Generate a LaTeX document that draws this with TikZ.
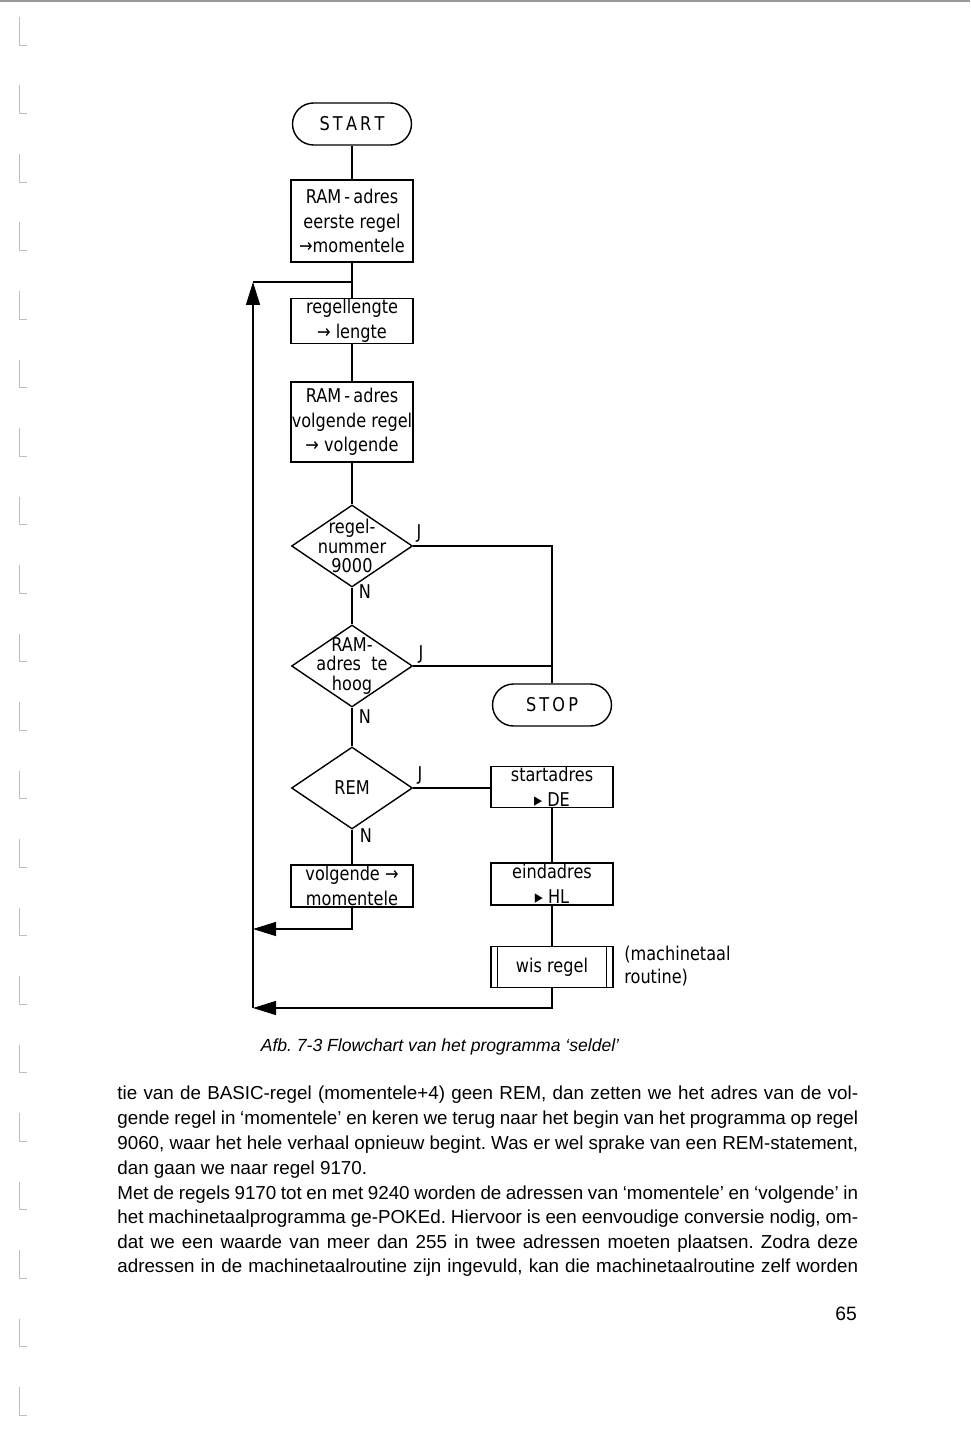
\documentclass[tikz,border=0pt]{standalone}
\usepackage{fontspec}
\setmainfont{Liberation Sans}
\newfontfamily\chartfont{DejaVu Sans}[FakeStretch=0.85]
\newfontfamily\bookfont{Liberation Sans}
\usetikzlibrary{shapes.geometric,arrows.meta}
\frenchspacing

\tikzset{
  chart/.style={font=\chartfont\fontsize{10.8}{14}\selectfont},
  procbox/.style={draw, line width=0.8pt, minimum width=2.44cm, inner sep=0.5pt, align=center, chart},
  termbox/.style={draw, line width=0.8pt, rounded corners=0.42cm, minimum width=2.38cm, minimum height=0.84cm, chart},
  decision/.style={draw, diamond, line width=0.8pt, minimum width=2.42cm, minimum height=1.64cm, inner sep=0pt},
  inside/.style={font=\chartfont\fontsize{10.8}{11.2}\selectfont, align=center, inner sep=0pt},
  flow/.style={line width=0.8pt},
  back/.style={line width=0.8pt, -{Triangle[length=0.46cm,width=0.28cm]}},
  yesno/.style={chart, inner sep=0pt},
  bodyline/.style={anchor=base west, inner sep=0pt, font=\bookfont\fontsize{10.7}{12}\selectfont},
  markline/.style={black!25, line width=0.5pt},
}

\begin{document}
\begin{tikzpicture}[x=0.02cm, y=-0.02cm]

\useasboundingbox (0,0) rectangle (970,1429);

% scan edge and binding marks
\draw[black!40, line width=0.6pt] (0,1) -- (970,1);
\foreach \k in {0,...,20}
  \draw[markline] (19,{17+68.5*\k}) -- (19,{45+68.5*\k}) -- (27,{45+68.5*\k});

% main column
\node[termbox] (start) at (352,124) {S\,T\,A\,R\,T};
\node[procbox, minimum height=1.64cm] (ramfirst) at (352,221) {RAM\,-\,adres\\eerste regel\\→momentele};
\node[procbox, minimum height=0.86cm] (length) at (352,321) {regellengte\\→ lengte};
\node[procbox, minimum height=1.6cm] (ramnext) at (352,422) {RAM\,-\,adres\\volgende regel\\→ volgende};
\node[decision] (isnine) at (352,546) {};
\node[inside] (isninetxt) at (isnine.center) {regel-\\nummer\\9000};
\node[decision] (toohigh) at (352,666) {};
\node[inside] (toohightxt) at (toohigh.center) {RAM-\\adres\ \ te\\hoog};
\node[decision] (isrem) at (352,788) {};
\node[inside] (isremtxt) at (isrem.center) {REM};
\node[procbox, minimum height=0.84cm] (nextcur) at (352,886) {volgende →\\momentele};

% right column
\node[termbox] (stop) at (552,705) {S\,T\,O\,P};
\node[procbox, minimum height=0.8cm] (startaddr) at (552,787) {startadres\\▸ DE};
\node[procbox, minimum height=0.84cm] (endaddr) at (552,884) {eindadres\\▸ HL};
\node[procbox, minimum height=0.82cm] (wipe) at (552,967) {wis regel};
\draw[flow] ([xshift=0.14cm]wipe.north west) -- ([xshift=0.14cm]wipe.south west);
\draw[flow] ([xshift=-0.14cm]wipe.north east) -- ([xshift=-0.14cm]wipe.south east);
\node[chart, anchor=west, align=left, inner sep=0pt, font=\chartfont\fontsize{10.8}{13}\selectfont] (routine) at (624,966) {(machinetaal\\routine)};

% J / N labels
\node[yesno] (j1) at (419,533) {J};
\node[yesno] (n1) at (365,592) {N};
\node[yesno] (j2) at (421,654) {J};
\node[yesno] (n2) at (365,717) {N};
\node[yesno] (j3) at (420,775) {J};
\node[yesno] (n3) at (366,836) {N};

% loop points
\coordinate (join) at (352,282);
\coordinate (corner) at (253,282);
\coordinate (leftmid) at (253,929);
\coordinate (leftbot) at (253,1008);

% connectors
\draw[flow] (start) -- (ramfirst);
\draw[flow] (ramfirst) -- (length);
\draw[flow] (length) -- (ramnext);
\draw[flow] (ramnext) -- (isnine);
\draw[flow] (isnine) -- (toohigh);
\draw[flow] (toohigh) -- (isrem);
\draw[flow] (isrem) -- (nextcur);
\draw[flow] (isnine.east) -| (stop.north);
\draw[flow] (toohigh.east) -- (toohigh.east -| stop.north);
\draw[flow] (isrem.east) -- (isrem.east -| startaddr.west);
\draw[flow] (startaddr) -- (endaddr);
\draw[flow] (endaddr) -- (wipe);
\draw[back] (nextcur.south) |- (leftmid);
\draw[back] (wipe.south) |- (leftbot);
\draw[back] (leftbot) -- (corner);
\draw[flow] (corner) -- (join);

% caption
\node[font=\bookfont\itshape\fontsize{10}{12}\selectfont, inner sep=0pt] (caption) at (440,1047) {Afb. 7-3 Flowchart van het programma ‘seldel’};

% body text
\node[bodyline] (l1) at (117,1099) {\makebox[14.82cm][s]{tie van de BASIC-regel (momentele+4) geen REM, dan zetten we het adres van de vol-}};
\node[bodyline] (l2) at (117,1124) {\makebox[14.82cm][s]{gende regel in ‘momentele’ en keren we terug naar het begin van het programma op regel}};
\node[bodyline] (l3) at (117,1149) {\makebox[14.82cm][s]{9060, waar het hele verhaal opnieuw begint. Was er wel sprake van een REM-statement,}};
\node[bodyline] (l4) at (117,1174) {dan gaan we naar regel 9170.};
\node[bodyline] (l5) at (117,1199) {\makebox[14.82cm][s]{Met de regels 9170 tot en met 9240 worden de adressen van ‘momentele’ en ‘volgende’ in}};
\node[bodyline] (l6) at (117,1223) {\makebox[14.82cm][s]{het machinetaalprogramma ge-POKEd. Hiervoor is een eenvoudige conversie nodig, om-}};
\node[bodyline] (l7) at (117,1248) {\makebox[14.82cm][s]{dat we een waarde van meer dan 255 in twee adressen moeten plaatsen. Zodra deze}};
\node[bodyline] (l8) at (117,1272) {\makebox[14.82cm][s]{adressen in de machinetaalroutine zijn ingevuld, kan die machinetaalroutine zelf worden}};

% page number
\node[font=\bookfont\fontsize{11}{13}\selectfont, inner sep=0pt] (page) at (846,1314) {65};

\end{tikzpicture}
\end{document}
